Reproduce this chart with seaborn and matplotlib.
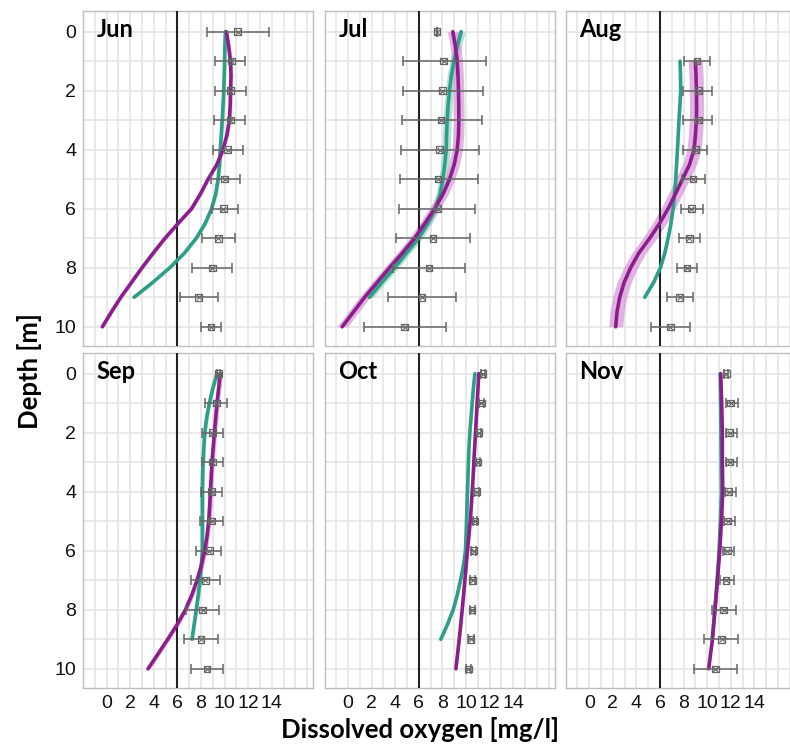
import numpy as np
import pandas as pd
import matplotlib
matplotlib.use("Agg")
import matplotlib.pyplot as plt
import seaborn as sns

nan = np.nan
months = ["Jun", "Jul", "Aug", "Sep", "Oct", "Nov"]
depths = [0, 1, 2, 3, 4, 5, 6, 7, 8, 9, 10]
fit_depths = [0, 0.5, 1, 1.5, 2, 2.5, 3, 3.5, 4, 4.5, 5, 5.5, 6, 6.5, 7, 7.5, 8, 8.5, 9, 9.5, 10]
x_ticks = [0, 2, 4, 6, 8, 10, 12, 14]
y_ticks = [0, 2, 4, 6, 8, 10]
threshold = 6

# observed means and error-bar limits (mg/l) per depth
jun_mean = [11.1, 10.58, 10.5, 10.5, 10.27, 10.0, 9.9, 9.47, 8.97, 7.8, 8.85]
jun_lo = [8.54, 9.22, 9.16, 9.14, 9.0, 8.82, 8.94, 8.06, 7.27, 6.25, 8.03]
jun_hi = [13.77, 11.76, 11.85, 11.73, 11.54, 11.31, 11.1, 10.89, 10.63, 9.47, 9.67]

jul_mean = [7.55, 8.09, 8.0, 7.89, 7.75, 7.64, 7.6, 7.21, 6.88, 6.25, 4.79]
jul_lo = [7.55, 4.64, 4.62, 4.56, 4.47, 4.42, 4.28, 4.05, 3.8, 3.4, 1.37]
jul_hi = [7.55, 11.65, 11.48, 11.34, 11.11, 11.0, 10.77, 10.35, 9.87, 9.16, 8.34]

aug_mean = [nan, 9.14, 9.28, 9.28, 9.02, 8.8, 8.66, 8.49, 8.29, 7.67, 6.88]
aug_lo = [nan, 8.0, 7.98, 7.98, 7.98, 7.86, 7.8, 7.6, 7.41, 6.6, 5.27]
aug_hi = [nan, 10.2, 10.4, 10.4, 10.0, 9.79, 9.6, 9.42, 9.1, 8.77, 8.51]

sep_mean = [9.5, 9.3, 8.97, 8.97, 8.91, 8.91, 8.71, 8.37, 8.15, 8.0, 8.5]
sep_lo = [9.4, 8.37, 8.12, 8.12, 8.0, 7.9, 7.58, 7.13, 6.76, 6.54, 7.16]
sep_hi = [9.6, 10.24, 9.87, 9.87, 9.81, 9.84, 9.67, 9.59, 9.53, 9.45, 9.87]

oct_mean = [11.45, 11.31, 11.11, 11.03, 10.89, 10.77, 10.66, 10.55, 10.52, 10.44, 10.2]
oct_lo = [11.3, 11.12, 10.93, 10.85, 10.7, 10.57, 10.44, 10.33, 10.3, 10.2, 10.0]
oct_hi = [11.6, 11.5, 11.3, 11.21, 11.08, 10.97, 10.88, 10.77, 10.74, 10.68, 10.4]

nov_mean = [11.62, 11.99, 11.9, 11.9, 11.82, 11.73, 11.7, 11.59, 11.4, 11.23, 10.69]
nov_lo = [11.45, 11.62, 11.56, 11.56, 11.48, 11.42, 11.34, 11.06, 10.44, 9.73, 8.91]
nov_hi = [11.8, 12.64, 12.55, 12.55, 12.41, 12.36, 12.3, 12.27, 12.41, 12.61, 12.55]

# fitted profiles (purple and teal curves), every 0.5 m
jun_purple = [10.15, 10.35, 10.5, 10.55, 10.5, 10.48, 10.4, 10.2, 9.87, 9.35, 8.6,
              7.95, 7.2, 6.05, 4.95, 3.95, 3.0, 2.1, 1.2, 0.4, -0.36]
jul_purple = [8.88, 9.1, 9.25, 9.32, 9.36, 9.38, 9.39, 9.36, 9.25, 9.0, 8.6,
              8.05, 7.33, 6.5, 5.63, 4.6, 3.51, 2.45, 1.4, 0.45, -0.5]
aug_purple = [nan, nan, 8.99, 9.05, 9.08, 9.1, 9.08, 9.0, 8.88, 8.5, 7.9,
              7.3, 6.68, 5.95, 5.12, 4.2, 3.5, 2.95, 2.58, 2.35, 2.24]
sep_purple = [9.64, 9.5, 9.36, 9.25, 9.14, 9.04, 8.94, 8.87, 8.8, 8.74, 8.66,
              8.52, 8.32, 8.03, 7.67, 7.22, 6.68, 5.98, 5.18, 4.35, 3.51]
oct_purple = [11.08, 11.01, 10.94, 10.87, 10.8, 10.73, 10.66, 10.6, 10.52, 10.44, 10.35,
              10.24, 10.12, 10.01, 9.9, 9.79, 9.67, 9.55, 9.42, 9.28, 9.14]
nov_purple = [11.14, 11.18, 11.22, 11.25, 11.28, 11.28, 11.28, 11.3, 11.31, 11.26, 11.2,
              11.13, 11.06, 10.96, 10.86, 10.76, 10.66, 10.55, 10.44, 10.28, 10.12]

jun_teal = [10.07, 10.03, 10.0, 9.97, 9.93, 9.87, 9.8, 9.72, 9.64, 9.57, 9.45,
            9.25, 8.9, 8.35, 7.6, 6.6, 5.35, 3.9, 2.33, nan, nan]
jul_teal = [9.59, 9.25, 8.97, 8.75, 8.6, 8.48, 8.4, 8.35, 8.32, 8.2, 8.03,
            7.8, 7.41, 6.75, 5.97, 4.95, 3.94, 2.85, 1.82, nan, nan]
aug_teal = [nan, nan, 7.7, 7.73, 7.75, 7.68, 7.6, 7.54, 7.47, 7.4, 7.33,
            7.23, 7.1, 6.92, 6.68, 6.4, 6.03, 5.45, 4.7, nan, nan]
sep_teal = [9.36, 9.0, 8.71, 8.48, 8.32, 8.24, 8.18, 8.14, 8.12, 8.12, 8.12,
            8.12, 8.12, 8.03, 7.92, 7.77, 7.6, 7.42, 7.24, nan, nan]
oct_teal = [10.75, 10.62, 10.52, 10.42, 10.32, 10.25, 10.2, 10.16, 10.12, 10.08, 10.04,
            10.0, 9.95, 9.78, 9.53, 9.25, 8.91, 8.42, 7.86, nan, nan]
nov_teal = [11.1, 11.12, 11.14, 11.15, 11.16, 11.17, 11.18, 11.19, 11.2, 11.16, 11.12,
            11.06, 11.0, 10.92, 10.84, 10.74, 10.64, 10.53, 10.42, nan, nan]

# half-width of the confidence ribbons per month
purple_band = [0.15, 0.45, 0.6, 0.2, 0.1, 0.1]
teal_band = [0.15, 0.35, 0.1, 0.15, 0.1, 0.08]

obs = {
    "Jun": (jun_mean, jun_lo, jun_hi), "Jul": (jul_mean, jul_lo, jul_hi),
    "Aug": (aug_mean, aug_lo, aug_hi), "Sep": (sep_mean, sep_lo, sep_hi),
    "Oct": (oct_mean, oct_lo, oct_hi), "Nov": (nov_mean, nov_lo, nov_hi),
}
fits = {
    "Jun": (jun_purple, jun_teal), "Jul": (jul_purple, jul_teal),
    "Aug": (aug_purple, aug_teal), "Sep": (sep_purple, sep_teal),
    "Oct": (oct_purple, oct_teal), "Nov": (nov_purple, nov_teal),
}

rows = []
for m in months:
    p, t = fits[m]
    for d, vp, vt in zip(fit_depths, p, t):
        rows.append({"month": m, "depth": d, "series": "purple", "value": vp})
        rows.append({"month": m, "depth": d, "series": "teal", "value": vt})
fit_df = pd.DataFrame(rows).dropna()

orows = []
for m in months:
    mean, lo, hi = obs[m]
    for d, a, b, c in zip(depths, mean, lo, hi):
        orows.append({"month": m, "depth": d, "mean": a, "lo": b, "hi": c})
obs_df = pd.DataFrame(orows).dropna()

sns.set_theme(style="white")
plt.rcParams["font.family"] = ["Liberation Sans", "DejaVu Sans"]

line_colors = {"purple": "#8C1E8C", "teal": "#2E9E88"}
band_colors = {"purple": "#D89AD9", "teal": "#9BD8C6"}

fig = plt.figure(figsize=(7.9, 7.46), dpi=100)
W, H = 790, 746
col_left = [83, 324.5, 565.7]
row_top = [11, 353]
pw, ph = 230, 335

for i, m in enumerate(months):
    r, c = divmod(i, 3)
    ax = fig.add_axes([col_left[c] / W, 1 - (row_top[r] + ph) / H, pw / W, ph / H])
    ax.set_xlim(-2, 17.5)
    ax.set_ylim(10.65, -0.7)
    ax.set_xticks(x_ticks)
    ax.set_yticks(y_ticks)
    ax.set_xticks(np.arange(-2, 18), minor=True)
    ax.set_yticks(np.arange(0, 11), minor=True)
    ax.grid(True, which="both", color="#E3E3E3", lw=1.1)
    ax.set_axisbelow(True)
    for s in ax.spines.values():
        s.set_color("#BDBDBD")
        s.set_linewidth(1.0)
    ax.tick_params(which="minor", length=0)
    ax.tick_params(which="major", length=3, color="#888888", width=0.8,
                   labelsize=14, labelcolor="#111111", pad=2)
    if r == 0:
        ax.tick_params(axis="x", labelbottom=False, length=0)
    if c != 0:
        ax.tick_params(axis="y", labelleft=False, length=0)

    sub = fit_df[fit_df["month"] == m]
    for s_name, band in (("teal", teal_band[i]), ("purple", purple_band[i])):
        ss = sub[sub["series"] == s_name]
        ax.fill_betweenx(ss["depth"], ss["value"] - band, ss["value"] + band,
                         color=band_colors[s_name], alpha=0.75, lw=0, zorder=2)
    ax.axvline(threshold, color="#222222", lw=1.5, zorder=3)
    sns.lineplot(data=sub, x="value", y="depth", hue="series", palette=line_colors,
                 hue_order=["teal", "purple"], orient="y", estimator=None,
                 sort=True, legend=False, lw=2.6, ax=ax, zorder=4)

    od = obs_df[obs_df["month"] == m]
    ax.errorbar(od["mean"], od["depth"], xerr=[od["mean"] - od["lo"], od["hi"] - od["mean"]],
                fmt="none", ecolor="#666666", elinewidth=1.1, capsize=3.5, capthick=1.1, zorder=5)
    sns.scatterplot(data=od, x="mean", y="depth", marker="s", s=22, facecolor="none",
                    edgecolor="#666666", linewidth=0.9, ax=ax, zorder=6)
    sns.scatterplot(data=od, x="mean", y="depth", marker="x", s=16, color="#666666",
                    linewidth=0.8, ax=ax, zorder=6)
    ax.set_xlabel("")
    ax.set_ylabel("")
    ax.text(0.06, 0.978, m, transform=ax.transAxes, ha="left", va="top",
            fontsize=17, fontweight="bold", family=["Lato", "DejaVu Sans"], color="#000000")

fig.text(30 / W, 1 - 371 / H, "Depth [m]", rotation=90, ha="center", va="center",
         fontsize=18.5, fontweight="bold", family=["Lato", "DejaVu Sans"], color="#000000")
fig.text(420 / W, 1 - 730 / H, "Dissolved oxygen [mg/l]", ha="center", va="center",
         fontsize=18.5, fontweight="bold", family=["Lato", "DejaVu Sans"], color="#000000")

fig.savefig("out.png", dpi=100)
